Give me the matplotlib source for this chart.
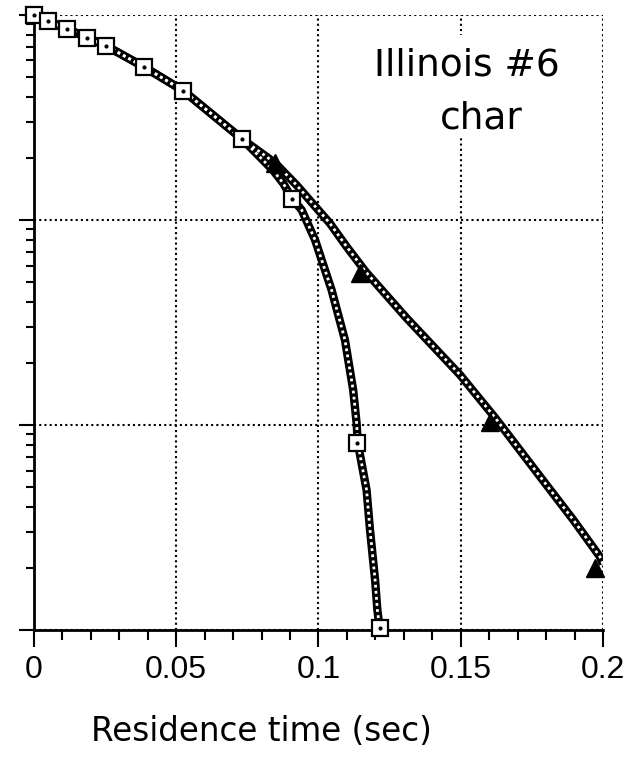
import matplotlib
matplotlib.use("Agg")
import matplotlib.pyplot as plt
from matplotlib.patches import Rectangle
from matplotlib.ticker import MultipleLocator, LogLocator, NullFormatter

# squares (measured points)
t_sq = [0.0, 0.0048, 0.0117, 0.0187, 0.0253, 0.0388, 0.0525, 0.0732, 0.0908, 0.1134, 0.1216]
y_sq = [1.0, 0.935, 0.855, 0.775, 0.708, 0.557, 0.427, 0.248, 0.1266, 0.0082, 0.00102]

# triangles
t_tri = [0.0847, 0.1146, 0.1603, 0.1972]
y_tri = [0.189, 0.055, 0.0104, 0.0020]

# curve through squares
t_fit1 = [0.0, 0.0048, 0.0117, 0.0187, 0.0253, 0.0388, 0.0525, 0.0732, 0.0840, 0.0876,
          0.0908, 0.0941, 0.0988, 0.1046, 0.1093, 0.1122, 0.1134, 0.1138, 0.1169,
          0.1181, 0.1199, 0.1207, 0.1216]
y_fit1 = [1.0, 0.935, 0.855, 0.775, 0.708, 0.557, 0.427, 0.248, 0.175, 0.151,
          0.1266, 0.1119, 0.0799, 0.0456, 0.0260, 0.0148, 0.0102, 0.0082, 0.00482,
          0.00309, 0.00175, 0.00125, 0.00100]

# curve through triangles
t_fit2 = [0.0, 0.0048, 0.0117, 0.0187, 0.0253, 0.0388, 0.0525, 0.0732, 0.0847, 0.0923,
          0.1040, 0.1099, 0.1167, 0.1310, 0.1497, 0.1622, 0.1779, 0.1896, 0.1989, 0.2]
y_fit2 = [1.0, 0.935, 0.855, 0.775, 0.708, 0.557, 0.427, 0.248, 0.190, 0.148,
          0.0964, 0.0741, 0.0557, 0.0332, 0.0176, 0.0108, 0.0056, 0.00344, 0.00228, 0.0021]

x_ticks = [0, 0.05, 0.1, 0.15, 0.2]
x_labels = ["0", "0.05", "0.1", "0.15", "0.2"]

plt.rcParams['font.family'] = ['DejaVu Sans']

fig = plt.figure(figsize=(6.34, 7.66), dpi=100)
ax = fig.add_axes([0.0536, 0.1775, 0.8975, 0.8029])
ax.set_yscale("log")
ax.set_xlim(0, 0.2)
ax.set_ylim(1e-3, 1)

# hatched-looking thick lines
for tt, yy in [(t_fit1, y_fit1), (t_fit2, y_fit2)]:
    ax.plot(tt, yy, color="black", lw=6, solid_capstyle="butt",
            solid_joinstyle="round", zorder=3)
    ax.plot(tt, yy, color="white", lw=2, linestyle=(0, (1, 1.2)), zorder=4)

ax.plot(t_sq, y_sq, linestyle="none", marker="s", markersize=11.5,
        markerfacecolor="white", markeredgecolor="black", markeredgewidth=1.6, zorder=6,
        clip_on=False)
ax.plot(t_sq, y_sq, linestyle="none", marker="o", markersize=2,
        color="black", zorder=7, clip_on=False)
ax.plot(t_tri, y_tri, linestyle="none", marker="^", markersize=13,
        color="black", zorder=6, clip_on=False)

ax.xaxis.set_minor_locator(MultipleLocator(0.01))
ax.set_xticks(x_ticks)
ax.set_xticklabels(x_labels, family="Liberation Sans")
ax.yaxis.set_major_locator(LogLocator(base=10))
ax.yaxis.set_minor_locator(LogLocator(base=10, subs=range(2, 10)))
ax.yaxis.set_major_formatter(NullFormatter())
ax.yaxis.set_minor_formatter(NullFormatter())

ax.tick_params(axis="x", which="major", direction="out", length=12, width=1.5,
               labelsize=23, pad=6)
ax.tick_params(axis="x", which="minor", direction="out", length=7, width=1.5)
ax.tick_params(axis="y", which="major", direction="out", length=11, width=1.5)
ax.tick_params(axis="y", which="minor", direction="out", length=6, width=1.5)

ax.grid(True, which="major", color="black", linestyle=(0, (1, 1.5)), linewidth=1.5)
ax.spines["top"].set_visible(False)
ax.spines["right"].set_visible(False)
ax.spines["left"].set_linewidth(2)
ax.spines["bottom"].set_linewidth(2)
ax.set_axisbelow(True)

ax.set_xlabel("Residence time (sec)", fontsize=23.5)
ax.xaxis.set_label_coords(0.40, -0.138)

# white panel behind the label text (hides the grid line)
ax.add_patch(Rectangle((0.59, 0.80), 0.343, 0.167, transform=ax.transAxes,
                       facecolor="white", edgecolor="none", zorder=2))
ax.text(0.7613, 0.9187, "Illinois #6", transform=ax.transAxes, fontsize=27,
        ha="center", va="center", zorder=5)
ax.text(0.787, 0.8325, "char", transform=ax.transAxes, fontsize=27,
        ha="center", va="center", zorder=5)

fig.savefig("out.png", dpi=100, facecolor="white")
